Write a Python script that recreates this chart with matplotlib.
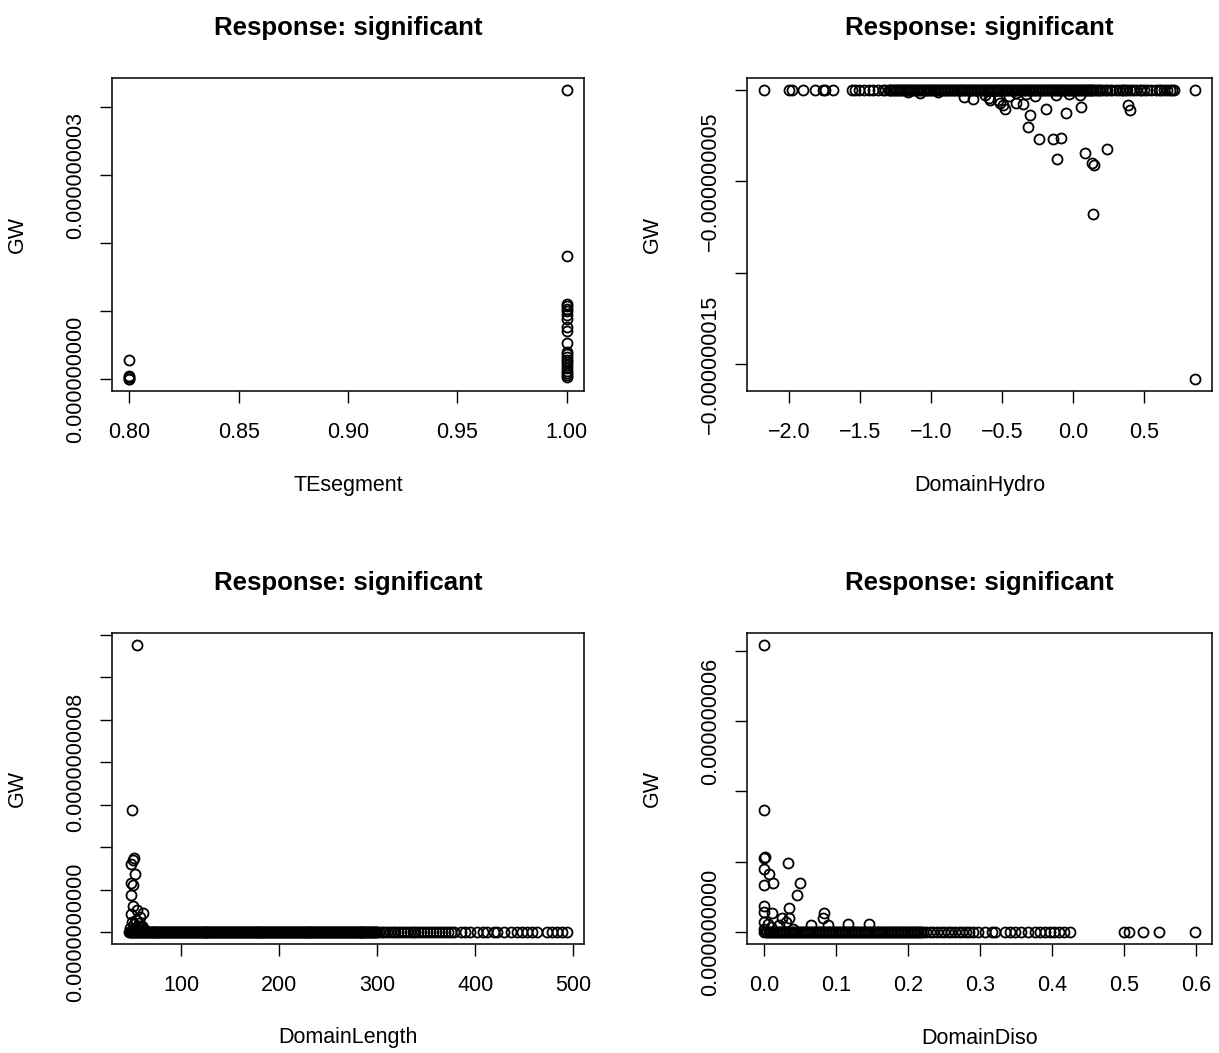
import numpy as np
import matplotlib
matplotlib.use("Agg")
import matplotlib.pyplot as plt

plt.rcParams["font.family"] = ["Liberation Sans", "DejaVu Sans"]

TITLE = "Response: significant"
E9 = 1e-9

# --- panel 1: TEsegment (GW in units of 1e-9) ---
te_x = [0.8, 0.8, 0.8, 0.8, 0.8,
        1.0, 1.0, 1.0, 1.0, 1.0, 1.0, 1.0, 1.0, 1.0, 1.0, 1.0, 1.0, 1.0,
        1.0, 1.0, 1.0, 1.0, 1.0, 1.0, 1.0, 1.0, 1.0]
te_gw = [0.0, 0.01, 0.03, 0.05, 0.28,
         4.26, 1.81, 1.11, 1.08, 1.04, 1.00, 0.94, 0.89, 0.77, 0.71, 0.54, 0.40, 0.37,
         0.33, 0.29, 0.25, 0.21, 0.17, 0.13, 0.10, 0.07, 0.03]

# --- panel 2: DomainHydro ---
hydro_x = [-1.16, -1.08, -0.955, -0.766, -0.707, -0.596, -0.585, -0.527, -0.516, -0.492,
           -0.48, -0.405, -0.354, -0.303, -0.319, -0.243, -0.192, -0.141, -0.088, -0.118,
           -0.053, 0.051, 0.085, 0.132, 0.143, 0.139, 0.24, 0.386, 0.402, 0.855,
           -0.33, -0.27, -0.12, -0.03, 0.05, -0.62, -0.45, -0.40]
hydro_gw = [-0.15, -0.18, -0.15, -0.40, -0.51, -0.46, -0.59, -0.55, -0.73, -0.82,
            -1.06, -0.73, -0.79, -1.37, -2.05, -2.71, -1.06, -2.71, -2.62, -3.81,
            -1.28, -0.97, -3.44, -3.99, -4.12, -6.77, -3.24, -0.82, -1.13, -15.82,
            -0.25, -0.35, -0.30, -0.25, -0.30, -0.30, -0.35, -0.20]
# points sitting on GW ~ 0
hydro_base = [-2.175, -2.0, -1.98, -1.90, -1.82, -1.76, -1.75, -1.69,
              -1.556, -1.533, -1.510, -1.475, -1.440, -1.406, -1.371, -1.340, -1.322,
              -1.30, -1.29, -1.28, -1.27, -1.26, -1.25, -1.24, -1.23, -1.22, -1.21,
              -1.20, -1.19, -1.18, -1.17, -1.16, -1.15, -1.14, -1.13, -1.12, -1.11,
              -1.10, -1.09, -1.08, -1.07, -1.06, -1.05, -1.04, -1.03, -1.02, -1.01,
              -1.00, -0.99, -0.98, -0.97, -0.96, -0.95, -0.94, -0.93, -0.92, -0.91,
              -0.90, -0.89, -0.88, -0.87, -0.86, -0.85, -0.84, -0.83, -0.82, -0.81,
              -0.80, -0.79, -0.78, -0.77, -0.76, -0.75, -0.74, -0.73, -0.72, -0.71,
              -0.70, -0.69, -0.68, -0.67, -0.66, -0.65, -0.64, -0.63, -0.62, -0.61,
              -0.60, -0.59, -0.58, -0.57, -0.56, -0.55, -0.54, -0.53, -0.52, -0.51,
              -0.50, -0.49, -0.48, -0.47, -0.46, -0.45, -0.44, -0.43, -0.42, -0.41,
              -0.40, -0.39, -0.38, -0.37, -0.36, -0.35, -0.34, -0.33, -0.32, -0.31,
              -0.30, -0.29, -0.28, -0.27, -0.26, -0.25, -0.24, -0.23, -0.22, -0.21,
              -0.20, -0.19, -0.18, -0.17, -0.16, -0.15, -0.14, -0.13, -0.12, -0.11,
              -0.10, -0.09, -0.08, -0.07, -0.06, -0.05, -0.04, -0.03, -0.02, -0.01,
              0.00, 0.01, 0.02, 0.03, 0.04, 0.05, 0.06, 0.07, 0.08, 0.09, 0.10, 0.11,
              0.115, 0.120, 0.132, 0.140, 0.150, 0.167, 0.180, 0.190, 0.201, 0.220,
              0.240, 0.260, 0.271, 0.300, 0.320, 0.340, 0.350, 0.363, 0.380, 0.400,
              0.420, 0.440, 0.467, 0.480, 0.501, 0.520, 0.550, 0.582, 0.600, 0.617,
              0.640, 0.663, 0.680, 0.698, 0.709, 0.854]

# --- panel 3: DomainLength ---
length_x = [55, 50, 52.5, 51, 49, 53.5, 49.5, 51, 49, 51, 61.5, 55, 49, 58,
            50, 52, 54, 56, 57, 59, 60, 62, 48, 50, 53]
length_gw = [1.355, 0.577, 0.350, 0.339, 0.323, 0.276, 0.234, 0.222, 0.178, 0.125, 0.094,
             0.104, 0.089, 0.075,
             0.050, 0.040, 0.060, 0.030, 0.045, 0.020, 0.030, 0.015, 0.020, 0.010, 0.020]
length_base = [47.5,
               48, 49, 50, 51, 52, 53, 54, 55, 56, 57, 58, 59, 60, 61, 62, 63, 64, 65, 66, 67,
               68, 69, 70, 71, 72, 73, 74, 75, 76, 77, 78, 79, 80, 81, 82, 83, 84, 85, 86, 87,
               88, 89, 90, 91, 92, 93, 94, 95, 96, 97, 98, 99, 100, 101, 102, 103, 104, 105,
               106, 107, 108, 109, 110, 111, 112, 113, 114, 115, 116, 117, 118, 119, 120,
               121, 122, 123, 124, 125, 126, 127, 128, 129, 130, 131, 132, 133, 134, 135,
               136, 137, 138, 139, 140, 141, 142, 143, 144, 145, 146, 147, 148, 149, 150,
               151, 152, 153, 154, 155, 156, 157, 158, 159, 160, 161, 162, 163, 164, 165,
               166, 167, 168, 169, 170, 171, 172, 173, 174, 175, 176, 177, 178, 179, 180,
               181, 182, 183, 184, 185, 186, 187, 188, 189, 190, 191, 192, 193, 194, 195,
               196, 197, 198, 199, 200, 201, 202, 203, 204, 205, 206, 207, 208, 209, 210,
               211, 212, 213, 214, 215, 216, 217, 218, 219, 220, 221, 222, 223, 224, 225,
               226, 227, 228, 229, 230, 231, 232, 233, 234, 235, 236, 237, 238, 239, 240,
               241, 242, 243, 244, 245, 246, 247, 248, 249, 250, 251, 252, 253, 254, 255,
               256, 257, 258, 259, 260, 261, 262, 263, 264, 265, 266, 267, 268, 269, 270,
               271, 272, 273, 274, 275, 276, 277, 278, 279, 280, 281, 282, 283, 284, 285,
               286, 287, 288, 289, 290, 291, 292, 293, 294, 295, 296, 297, 298, 299, 300,
               302, 305, 307, 310, 313, 316, 318, 321, 324, 327, 330, 333, 336, 339, 342,
               345, 348, 351, 354, 357, 360, 363, 366, 369, 372, 375, 378,
               385, 390, 395, 402, 408, 412, 419, 422, 429, 436, 443, 448, 453, 458, 463,
               473, 478, 483, 488, 493]

# --- panel 4: DomainDiso ---
diso_x = [0.0, 0.0, 0.0, 0.0015, 0.0, 0.006, 0.0, 0.0125, 0.033, 0.049, 0.045, 0.034,
          0.0, 0.0, 0.011, 0.024, 0.034, 0.083, 0.081, 0.065, 0.088, 0.117, 0.145,
          0.0, 0.005, 0.010, 0.020, 0.0, 0.040, 0.030]
diso_gw = [8.17, 3.48, 2.11, 2.14, 1.81, 1.67, 1.36, 1.41, 1.98, 1.41, 1.05, 0.70,
           0.75, 0.58, 0.54, 0.40, 0.42, 0.54, 0.42, 0.20, 0.20, 0.23, 0.23,
           0.30, 0.25, 0.15, 0.20, 0.10, 0.10, 0.30]
diso_base = [0.000, 0.002, 0.004, 0.006, 0.008, 0.010, 0.012, 0.014, 0.016, 0.018,
             0.020, 0.022, 0.024, 0.026, 0.028, 0.030, 0.032, 0.034, 0.036, 0.038,
             0.040, 0.042, 0.044, 0.046, 0.048, 0.050, 0.052, 0.054, 0.056, 0.058,
             0.060, 0.062, 0.064, 0.066, 0.068, 0.070, 0.072, 0.074, 0.076, 0.078,
             0.080, 0.082, 0.084, 0.086, 0.088, 0.090, 0.092, 0.094, 0.096, 0.098,
             0.100, 0.102, 0.104, 0.106, 0.108, 0.110, 0.112, 0.114, 0.116, 0.118,
             0.120, 0.122, 0.124, 0.126, 0.128, 0.130, 0.132, 0.134, 0.136, 0.138,
             0.140, 0.142, 0.144, 0.146, 0.148, 0.150, 0.152, 0.154, 0.156, 0.158,
             0.160, 0.162, 0.164, 0.166, 0.168, 0.170, 0.172, 0.174, 0.176, 0.178,
             0.180, 0.182, 0.184, 0.186, 0.188, 0.190, 0.192, 0.194, 0.196, 0.198,
             0.200, 0.202, 0.204, 0.206, 0.208, 0.210, 0.212, 0.214, 0.216, 0.218, 0.220,
             0.225, 0.230, 0.235, 0.240, 0.245, 0.250, 0.255, 0.260, 0.265, 0.270,
             0.275, 0.280, 0.285, 0.290,
             0.297, 0.307, 0.316, 0.320, 0.334, 0.341, 0.348, 0.357, 0.367, 0.376, 0.383,
             0.390, 0.397, 0.403, 0.410, 0.417, 0.425, 0.500, 0.507, 0.526, 0.549, 0.598]

panels = [
    dict(name="TEsegment", x=te_x, gw=te_gw, base=[],
         xticks=[0.80, 0.85, 0.90, 0.95, 1.00], xlabels=["0.80", "0.85", "0.90", "0.95", "1.00"],
         yticks=[0, 1, 2, 3, 4], ylabels=["0.000000000", "", "", "0.000000003", ""]),
    dict(name="DomainHydro", x=hydro_x, gw=hydro_gw, base=hydro_base,
         xticks=[-2.0, -1.5, -1.0, -0.5, 0.0, 0.5],
         xlabels=["\u22122.0", "\u22121.5", "\u22121.0", "\u22120.5", "0.0", "0.5"],
         yticks=[0, -5, -10, -15], ylabels=["", "\u22120.000000005", "", "\u22120.000000015"]),
    dict(name="DomainLength", x=length_x, gw=length_gw, base=length_base,
         xticks=[100, 200, 300, 400, 500], xlabels=["100", "200", "300", "400", "500"],
         yticks=[0, 0.2, 0.4, 0.6, 0.8, 1.0, 1.2, 1.4],
         ylabels=["0.0000000000", "", "", "", "0.0000000008", "", "", ""]),
    dict(name="DomainDiso", x=diso_x, gw=diso_gw, base=diso_base,
         xticks=[0.0, 0.1, 0.2, 0.3, 0.4, 0.5, 0.6],
         xlabels=["0.0", "0.1", "0.2", "0.3", "0.4", "0.5", "0.6"],
         yticks=[0, 2, 4, 6, 8], ylabels=["0.000000000", "", "", "0.000000006", ""]),
]

W, H = 1219, 1053
fig = plt.figure(figsize=(W / 100, H / 100), dpi=100)

# axes boxes in pixels: left, top, right, bottom
boxes = [(112, 78, 584, 391), (747, 78, 1212, 391),
         (112, 633, 584, 944), (747, 633, 1212, 944)]


def r_range(v):
    lo, hi = min(v), max(v)
    pad = 0.04 * (hi - lo)
    return lo - pad, hi + pad


for p, (l, t, r, b) in zip(panels, boxes):
    ax = fig.add_axes([l / W, 1 - b / H, (r - l) / W, (b - t) / H])
    xs = np.array(p["x"] + p["base"], dtype=float)
    ys = np.concatenate([np.array(p["gw"], dtype=float), np.zeros(len(p["base"]))]) * E9
    ax.plot(xs, ys, "o", mfc="none", mec="black", ms=7.2, mew=1.3)
    ax.set_xlim(*r_range(xs))
    ax.set_ylim(*r_range(ys))

    ax.set_xticks(p["xticks"], p["xlabels"])
    ax.set_yticks(np.array(p["yticks"]) * E9, p["ylabels"], rotation=90, va="center")
    ax.tick_params(direction="out", length=8.6, width=1.0, labelsize=15.5, color="black")
    ax.tick_params(axis="x", pad=14)
    ax.tick_params(axis="y", pad=10)
    for s in ax.spines.values():
        s.set_linewidth(1.1)

    ax.set_xlabel(p["name"], fontsize=15.5)
    ax.xaxis.set_label_coords(0.5, -94 / (b - t))
    ax.xaxis.label.set_va("center")
    ax.set_ylabel("GW", fontsize=15.5)
    ax.yaxis.set_label_coords(-95 / (r - l), 0.5)
    ax.yaxis.label.set_va("center")

    ax.text(0.5, 1 + 50 / (b - t), TITLE, transform=ax.transAxes, ha="center", va="center",
            fontsize=18.6, fontweight="bold")

fig.savefig("out.png", dpi=100)
